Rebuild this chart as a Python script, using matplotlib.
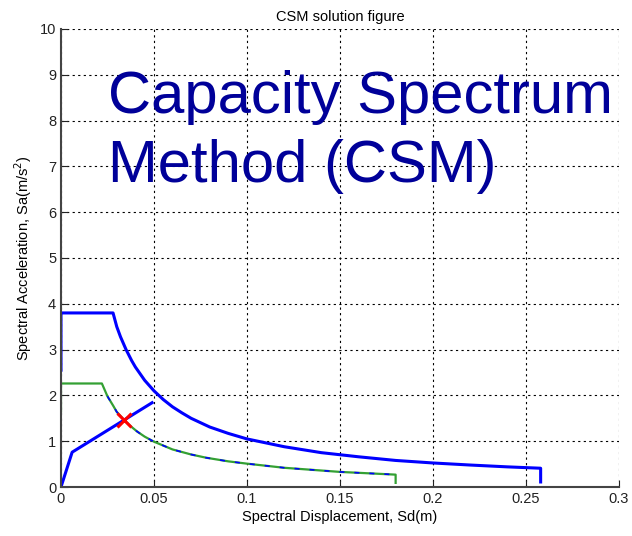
import matplotlib
matplotlib.use("Agg")
import matplotlib.pyplot as plt

plt.rcParams['font.family'] = ['Liberation Sans', 'DejaVu Sans']

# Demand spectrum (elastic, blue)
demand_sd = [0.0, 0.0, 0.028, 0.030, 0.032, 0.035, 0.038, 0.040, 0.045, 0.050, 0.055,
             0.060, 0.065, 0.070, 0.080, 0.090, 0.100, 0.120, 0.140, 0.160, 0.180,
             0.200, 0.220, 0.240, 0.258, 0.258]
demand_sa = [2.55, 3.8, 3.8, 3.5, 3.28, 3.0, 2.76, 2.62, 2.33, 2.1, 1.91,
             1.75, 1.62, 1.5, 1.31, 1.17, 1.05, 0.88, 0.75, 0.66, 0.58,
             0.525, 0.48, 0.44, 0.41, 0.11]

# Reduced demand spectrum (green)
reduced_sd = [0.0, 0.0, 0.022, 0.025, 0.028, 0.030, 0.034, 0.038, 0.041, 0.045, 0.050,
              0.060, 0.070, 0.078, 0.090, 0.100, 0.120, 0.150, 0.180, 0.180]
reduced_sa = [1.65, 2.26, 2.26, 1.98, 1.78, 1.64, 1.46, 1.31, 1.21, 1.1, 0.99,
              0.82, 0.71, 0.64, 0.56, 0.51, 0.42, 0.33, 0.27, 0.09]

# Capacity curve (blue)
capacity_sd = [0.0, 0.006, 0.049]
capacity_sa = [0.0, 0.76, 1.84]

# Performance point
pp_sd = [0.034]
pp_sa = [1.46]

x_ticks = [0, 0.05, 0.1, 0.15, 0.2, 0.25, 0.3]
x_tick_labels = ['0', '0.05', '0.1', '0.15', '0.2', '0.25', '0.3']
y_ticks = list(range(0, 11))

fig = plt.figure(figsize=(6.32, 5.36), dpi=100)
ax = fig.add_axes([0.0965, 0.0914, 0.8825, 0.8546])

ax.plot(demand_sd, demand_sa, color='#0000ff', lw=2.2)
ax.plot(reduced_sd, reduced_sa, color='#33a033', lw=1.6)
ax.plot(reduced_sd[3:-1], reduced_sa[3:-1], color='#0000ff', lw=1.2, ls=(0, (3, 6)))
ax.plot(capacity_sd, capacity_sa, color='#0000ff', lw=2.2)
ax.plot(pp_sd, pp_sa, 'x', color='red', ms=10, mew=2.2)

ax.set_xlim(0, 0.3)
ax.set_ylim(0, 10)
ax.set_xticks(x_ticks)
ax.set_xticklabels(x_tick_labels)
ax.set_yticks(y_ticks)
ax.grid(True, color='black', ls=(0, (2, 3)), lw=0.8)
ax.tick_params(direction='in', length=5, labelsize=10.5, colors='#222222')
for s in ['top', 'right']:
    ax.spines[s].set_visible(False)
for s in ['left', 'bottom']:
    ax.spines[s].set_color('#444444')
    ax.spines[s].set_linewidth(1.5)

ax.set_title('CSM solution figure', fontsize=10.5, pad=6)
ax.set_xlabel('Spectral Displacement, Sd(m)', fontsize=10.5, labelpad=3)
ax.set_ylabel('Spectral Acceleration, Sa(m/s$^2$)', fontsize=10.5, labelpad=4)

ax.text(0.0253, 6.65, 'Capacity Spectrum\nMethod (CSM)', fontsize=43, color='#000099',
        va='baseline', ha='left', linespacing=1.34)

fig.savefig('out.png', dpi=100)
